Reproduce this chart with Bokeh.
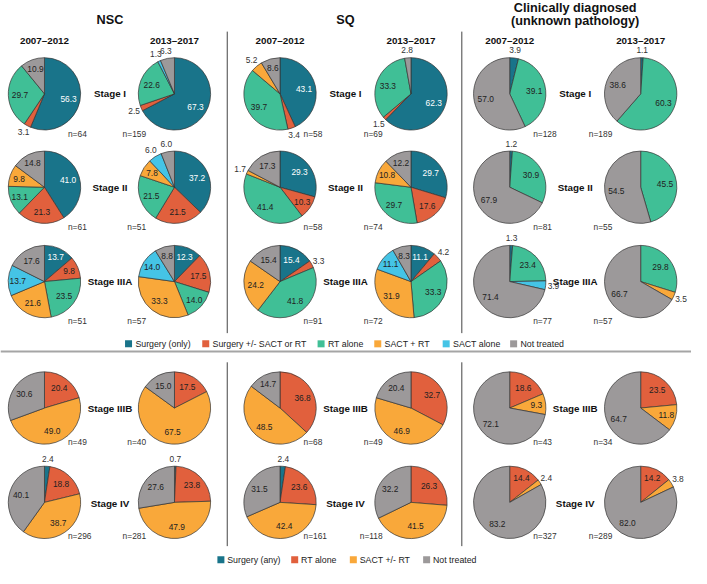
import math
from bokeh.plotting import figure
from bokeh.models import Range1d, ColumnDataSource
from bokeh.embed import file_html
from bokeh.resources import INLINE
from bokeh.core.properties import value

# ---------------- data ----------------
group_titles = ["NSC", "SQ", "Clinically diagnosed", "(unknown pathology)"]
periods = ["2007\u20132012", "2013\u20132017"]
top_stages = ["Stage I", "Stage II", "Stage IIIA"]
bottom_stages = ["Stage IIIB", "Stage IV"]

top_categories = ["Surgery (only)", "Surgery +/- SACT or RT", "RT alone",
                  "SACT + RT", "SACT alone", "Not treated"]
bottom_categories = ["Surgery (any)", "RT alone", "SACT +/- RT", "Not treated"]

# top section: [stage][period] -> percentages in top_categories order
nsc_top = [
    [[56.3, 3.1, 29.7, 0, 0, 10.9], [67.3, 2.5, 22.6, 0, 1.3, 6.3]],
    [[41.0, 21.3, 13.1, 9.8, 0, 14.8], [37.2, 21.5, 21.5, 7.8, 6.0, 6.0]],
    [[13.7, 9.8, 23.5, 21.6, 13.7, 17.6], [12.3, 17.5, 14.0, 33.3, 14.0, 8.8]],
]
nsc_top_n = [[64, 159], [61, 51], [51, 57]]

sq_top = [
    [[43.1, 3.4, 39.7, 5.2, 0, 8.6], [62.3, 1.5, 33.3, 0, 0, 2.8]],
    [[29.3, 10.3, 41.4, 1.7, 0, 17.3], [29.7, 17.6, 29.7, 10.8, 0, 12.2]],
    [[15.4, 3.3, 41.8, 24.2, 0, 15.4], [11.1, 4.2, 33.3, 31.9, 11.1, 8.3]],
]
sq_top_n = [[58, 69], [58, 74], [91, 72]]

cd_top = [
    [[3.9, 0, 39.1, 0, 0, 57.0], [1.1, 0, 60.3, 0, 0, 38.6]],
    [[1.2, 0, 30.9, 0, 0, 67.9], [0, 0, 45.5, 0, 0, 54.5]],
    [[1.3, 0, 23.4, 0, 3.9, 71.4], [0, 0, 29.8, 3.5, 0, 66.7]],
]
cd_top_n = [[128, 189], [81, 55], [77, 57]]

# bottom section: [stage][period] -> percentages in bottom_categories order
nsc_bottom = [
    [[0, 20.4, 49.0, 30.6], [0, 17.5, 67.5, 15.0]],
    [[2.4, 18.8, 38.7, 40.1], [0.7, 23.8, 47.9, 27.6]],
]
nsc_bottom_n = [[49, 40], [296, 281]]

sq_bottom = [
    [[0, 36.8, 48.5, 14.7], [0, 32.7, 46.9, 20.4]],
    [[2.4, 23.6, 42.4, 31.5], [0, 26.3, 41.5, 32.2]],
]
sq_bottom_n = [[68, 49], [161, 118]]

cd_bottom = [
    [[0, 18.6, 9.3, 72.1], [0, 23.5, 11.8, 64.7]],
    [[0, 14.4, 2.4, 83.2], [0, 14.2, 3.8, 82.0]],
]
cd_bottom_n = [[43, 34], [327, 289]]

# ---------------- styles / layout ----------------
top_colors = ["#19748a", "#e1603d", "#40bf96", "#f9a83a", "#45c4e6", "#9c999a"]
bottom_colors = ["#19748a", "#e1603d", "#f9a83a", "#9c999a"]

W, H = 707, 584
R = 37
FONT = value("Liberation Sans")

col_x = [[45, 178], [286, 420], [521, 655]]
stage_x = [112, 353, 588]
top_y = [96, 192, 289]
bottom_y = [419, 516]

p = figure(width=691, height=568, output_backend="svg", toolbar_location=None,
           x_range=Range1d(0, W), y_range=Range1d(0, H), min_border=0)
p.axis.visible = False
p.grid.visible = False
p.outline_line_color = None
p.background_fill_color = "white"


def Y(y):
    return H - y


wedges = dict(x=[], y=[], s=[], e=[], c=[])
labels = dict(x=[], y=[], t=[], c=[])
nlab_l = dict(x=[], y=[], t=[])
nlab_r = dict(x=[], y=[], t=[])


def add_pie(cx, cy, vals, colors, n, left, ny_off):
    total = sum(vals)
    cum = 0.0
    for i, v in enumerate(vals):
        if v <= 0:
            continue
        f0 = cum / total
        f1 = (cum + v) / total
        cum += v
        wedges["x"].append(cx)
        wedges["y"].append(Y(cy))
        wedges["s"].append(math.pi / 2 - 2 * math.pi * f0)
        wedges["e"].append(math.pi / 2 - 2 * math.pi * f1)
        wedges["c"].append(colors[i])
        th = 2 * math.pi * (f0 + f1) / 2
        if v >= 7:
            r = R * (0.68 if v >= 15 else 0.74)
            col = "white" if i == 0 else "#222222"
        else:
            r = R + 8
            col = "#333333"
        labels["x"].append(cx + r * math.sin(th))
        labels["y"].append(Y(cy - r * math.cos(th)))
        labels["t"].append(f"{v:.1f}")
        labels["c"].append(col)
    if left:
        nlab_l["x"].append(cx + 24)
        nlab_l["y"].append(Y(cy + ny_off))
        nlab_l["t"].append(f"n={n}")
    else:
        nlab_r["x"].append(cx - 29)
        nlab_r["y"].append(Y(cy + ny_off))
        nlab_r["t"].append(f"n={n}")


top_sets = [(nsc_top, nsc_top_n), (sq_top, sq_top_n), (cd_top, cd_top_n)]
bottom_sets = [(nsc_bottom, nsc_bottom_n), (sq_bottom, sq_bottom_n), (cd_bottom, cd_bottom_n)]

for g, (vals, ns) in enumerate(top_sets):
    for s in range(3):
        for k in range(2):
            add_pie(col_x[g][k], top_y[s], vals[s][k], top_colors, ns[s][k], k == 0, 41)
for g, (vals, ns) in enumerate(bottom_sets):
    for s in range(2):
        for k in range(2):
            add_pie(col_x[g][k], bottom_y[s], vals[s][k], bottom_colors, ns[s][k], k == 0, 35)

p.wedge(x="x", y="y", radius=R, start_angle="s", end_angle="e", direction="clock",
        fill_color="c", line_color="#333333", line_width=0.7,
        source=ColumnDataSource(wedges))

p.text(x="x", y="y", text="t", text_color="c", text_align="center", text_baseline="middle",
       text_font=FONT, text_font_size=value("8.4px"), source=ColumnDataSource(labels))
p.text(x="x", y="y", text="t", text_color="#333333", text_align="left", text_baseline="middle",
       text_font=FONT, text_font_size=value("8.4px"), source=ColumnDataSource(nlab_l))
p.text(x="x", y="y", text="t", text_color="#333333", text_align="right", text_baseline="middle",
       text_font=FONT, text_font_size=value("8.4px"), source=ColumnDataSource(nlab_r))

# stage labels
sx, sy, st = [], [], []
for g in range(3):
    for s in range(3):
        sx.append(stage_x[g]); sy.append(Y(top_y[s])); st.append(top_stages[s])
    for s in range(2):
        sx.append(stage_x[g]); sy.append(Y(bottom_y[s] + 1)); st.append(bottom_stages[s])
p.text(x=sx, y=sy, text=st, text_align="center", text_baseline="middle", text_color="#111111",
       text_font=FONT, text_font_style="bold", text_font_size=value("9.8px"))

# period titles
px_, py_, pt_ = [], [], []
for g in range(3):
    for k in range(2):
        px_.append(col_x[g][k]); py_.append(Y(41)); pt_.append(periods[k])
p.text(x=px_, y=py_, text=pt_, text_align="center", text_baseline="middle", text_color="#111111",
       text_font=FONT, text_font_style="bold", text_font_size=value("9.8px"))

# group titles
p.text(x=[112, 353, 588, 588], y=[Y(20), Y(20), Y(8), Y(21.5)], text=group_titles,
       text_align="center", text_baseline="middle", text_color="#111111",
       text_font=FONT, text_font_style="bold", text_font_size=value("12.7px"))

# separators
p.segment(x0=[232, 472, 232, 472], y0=[Y(32), Y(32), Y(372), Y(372)],
          x1=[232, 472, 232, 472], y1=[Y(342), Y(342), Y(561), Y(561)],
          line_color="#444444", line_width=1)
p.segment(x0=[0], y0=[Y(361)], x1=[W], y1=[Y(361)], line_color="#a5a5a5", line_width=2)

# legends
top_sq_x = [131, 210, 328, 386, 456, 525]
bot_sq_x = [225.5, 301, 361, 436]
p.scatter(x=top_sq_x, y=[Y(353)] * 6, marker="square", size=7, fill_color=top_colors,
          line_color=None)
p.text(x=[v + 7 for v in top_sq_x], y=[Y(353)] * 6, text=top_categories, text_align="left",
       text_baseline="middle", text_color="#222222", text_font=FONT,
       text_font_size=value("8.8px"))
p.scatter(x=bot_sq_x, y=[Y(575)] * 4, marker="square", size=7, fill_color=bottom_colors,
          line_color=None)
p.text(x=[v + 6.5 for v in bot_sq_x], y=[Y(575)] * 4, text=bottom_categories, text_align="left",
       text_baseline="middle", text_color="#222222", text_font=FONT,
       text_font_size=value("8.8px"))

open("out.html", "w").write(file_html(p, INLINE))
